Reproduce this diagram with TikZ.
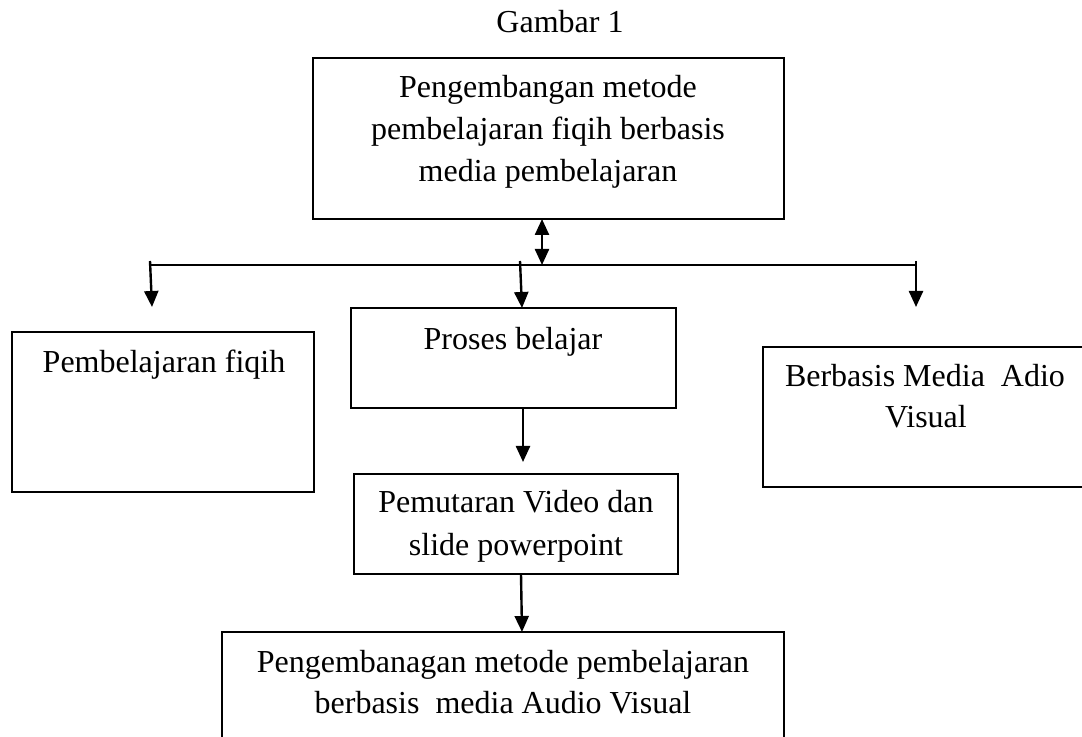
\documentclass[tikz,border=0pt]{standalone}
\usepackage{fontspec}
\setmainfont{Liberation Serif}
\usetikzlibrary{arrows.meta}
\begin{document}
\begin{tikzpicture}[x=0.5pt,y=-0.5pt,
  box/.style={draw, line width=1pt, inner sep=0pt, outer sep=0pt},
  txt/.style={anchor=base, inner sep=0pt, font=\fontsize{16}{21}\selectfont},
  line/.style={line width=1.2pt},
  conn/.style={line, -{Triangle[length=8pt,width=7pt]}},
]
\useasboundingbox (0,0) rectangle (1082,737);

% boxes
\node[box, minimum width=235.5pt, minimum height=80.5pt] (top) at (548.5,138.5) {};
\node[box, minimum width=151pt, minimum height=80pt] (left) at (163,412) {};
\node[box, minimum width=162.5pt, minimum height=50pt] (proses) at (513.5,358) {};
\node[box, minimum width=163.5pt, minimum height=70pt] (right) at (926.5,417) {};
\node[box, minimum width=162pt, minimum height=50pt] (pemut) at (516,524) {};
\node[box, minimum width=281pt, minimum height=74pt] (bottom) at (503,706) {};

% texts
\node[txt] (title) at (560,33) {Gambar 1};
\node[txt] (t1) at (548,98) {Pengembangan metode};
\node[txt] (t2) at (548,140) {pembelajaran fiqih berbasis};
\node[txt] (t3) at (548,182) {media pembelajaran};
\node[txt] (l1) at (164,373) {Pembelajaran fiqih};
\node[txt] (p1) at (513,350) {Proses belajar};
\node[txt] (r1) at (925,387) {Berbasis Media\ \ Adio};
\node[txt] (r2) at (926,428) {Visual};
\node[txt] (m1) at (516,513) {Pemutaran Video dan};
\node[txt] (m2) at (516,555) {slide powerpoint};
\node[txt] (b1) at (503,672) {Pengembanagan metode pembelajaran};
\node[txt] (b2) at (503,713) {berbasis\ \ media Audio Visual};

% connectors
\coordinate (j) at (542,265);
\coordinate (hl) at (150,265);
\coordinate (hr) at (916,265);
\draw[line] (hl) -- (hr);
\draw[line, {Triangle[length=8pt,width=7pt]}-{Triangle[length=8pt,width=7pt]}] (top.south -| j) -- (j);

\coordinate (d1s) at (150,261);
\coordinate (d1e) at (152,307);
\draw[conn] (d1s) -- (d1e);
\coordinate (d2s) at (520,261);
\coordinate (d2e) at (522,307);
\draw[conn] (d2s) -- (d2e |- proses.north);
\coordinate (d3s) at (916,261);
\coordinate (d3e) at (916,307);
\draw[conn] (d3s) -- (d3e);

\coordinate (e1) at (523,462);
\draw[conn] (proses.south -| e1) -- (e1);
\coordinate (f1) at (521,574);
\coordinate (f2) at (522,632);
\draw[conn] (pemut.south -| f1) -- (bottom.north -| f2);
\end{tikzpicture}
\end{document}
